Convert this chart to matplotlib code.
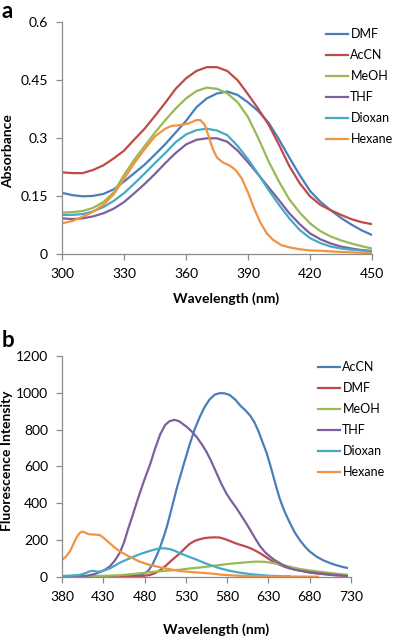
import matplotlib
matplotlib.use('Agg')
import matplotlib.pyplot as plt

plt.rcParams['font.family'] = ['Lato', 'DejaVu Sans']

# ---- panel a: absorbance (5 nm steps) ----
abs_wl = [300, 305, 310, 315, 320, 325, 330, 335, 340, 345, 350, 355, 360, 365, 370, 375,
          380, 385, 390, 395, 400, 405, 410, 415, 420, 425, 430, 435, 440, 445, 450]
abs_dmf = [0.159, 0.153, 0.150, 0.151, 0.156, 0.168, 0.188, 0.210, 0.232, 0.258, 0.285, 0.315,
           0.345, 0.380, 0.403, 0.416, 0.421, 0.412, 0.393, 0.370, 0.340, 0.297, 0.250, 0.205,
           0.164, 0.136, 0.114, 0.094, 0.077, 0.062, 0.050]
abs_accn = [0.212, 0.210, 0.210, 0.218, 0.230, 0.248, 0.268, 0.297, 0.325, 0.358, 0.392, 0.428,
            0.455, 0.474, 0.484, 0.484, 0.474, 0.450, 0.414, 0.376, 0.335, 0.283, 0.228, 0.184,
            0.150, 0.128, 0.114, 0.102, 0.091, 0.083, 0.078]
abs_meoh = [0.108, 0.109, 0.112, 0.120, 0.135, 0.160, 0.205, 0.245, 0.280, 0.315, 0.347, 0.377,
            0.403, 0.422, 0.431, 0.428, 0.416, 0.393, 0.355, 0.300, 0.240, 0.188, 0.142, 0.108,
            0.080, 0.060, 0.046, 0.036, 0.028, 0.021, 0.015]
abs_thf = [0.093, 0.091, 0.093, 0.098, 0.106, 0.118, 0.135, 0.158, 0.182, 0.208, 0.236, 0.262,
           0.284, 0.296, 0.300, 0.300, 0.291, 0.268, 0.238, 0.206, 0.173, 0.140, 0.106, 0.078,
           0.054, 0.039, 0.028, 0.020, 0.015, 0.011, 0.008]
abs_dioxan = [0.102, 0.102, 0.104, 0.111, 0.122, 0.138, 0.158, 0.183, 0.209, 0.236, 0.262, 0.290,
              0.310, 0.321, 0.325, 0.320, 0.308, 0.280, 0.246, 0.207, 0.166, 0.128, 0.093, 0.063,
              0.042, 0.029, 0.020, 0.015, 0.012, 0.010, 0.009]
hex_wl = [300, 305, 310, 315, 320, 325, 330, 335, 340, 345, 350, 353, 357, 361, 365, 367, 369,
          371, 373, 375, 378, 381, 384, 387, 390, 393, 396, 399, 402, 406, 410, 415, 420, 426,
          435, 450]
abs_hexane = [0.080, 0.086, 0.097, 0.110, 0.128, 0.155, 0.195, 0.236, 0.272, 0.305, 0.325, 0.332,
              0.334, 0.338, 0.347, 0.347, 0.335, 0.305, 0.272, 0.250, 0.237, 0.230, 0.218, 0.196,
              0.160, 0.118, 0.082, 0.055, 0.038, 0.024, 0.018, 0.013, 0.010, 0.009, 0.006, 0.003]

# ---- panel b: fluorescence ----
fl_accn_wl = [380, 440, 460, 470, 475, 480, 485, 490, 495, 499, 503, 507, 511, 515, 519, 523, 529,
              535, 541, 547, 553, 559, 565, 571, 577, 583, 590, 596, 602, 608, 613, 618, 623, 628,
              632, 636, 640, 644, 650, 656, 662, 668, 674, 680, 688, 696, 704, 712, 720, 725]
fl_accn = [0, 1, 3, 6, 10, 18, 35, 70, 118, 163, 215, 272, 340, 410, 480, 543, 635,
           725, 805, 870, 925, 965, 990, 998, 997, 988, 962, 930, 905, 875, 840, 790, 730, 671,
           610, 545, 480, 420, 350, 292, 240, 199, 165, 137, 110, 90, 75, 63, 53, 48]
fl_dmf_wl = [380, 450, 470, 480, 487, 493, 499, 505, 511, 517, 523, 529, 535, 541, 547, 553, 559,
             565, 571, 577, 583, 590, 596, 602, 608, 614, 620, 626, 632, 638, 644, 650, 656, 662,
             668, 674, 680, 690, 700, 712, 725]
fl_dmf = [0, 1, 3, 5, 10, 20, 36, 57, 82, 105, 128, 155, 180, 195, 204, 210, 213,
          214, 213, 205, 195, 182, 173, 165, 155, 142, 127, 110, 92, 76, 64, 53, 45, 39,
          34, 28, 22, 17, 12, 7, 4]
fl_meoh_wl = [380, 420, 450, 474, 490, 505, 523, 535, 547, 560, 572, 583, 595, 605, 615, 625, 635,
              644, 656, 668, 680, 692, 705, 715, 725]
fl_meoh = [0, 3, 8, 18, 26, 32, 38, 45, 50, 57, 64, 70, 75, 79, 82, 81, 75,
           67, 54, 42, 34, 27, 20, 15, 11]
fl_thf_wl = [380, 410, 420, 426, 432, 438, 444, 450, 455, 460, 466, 472, 480, 487, 493, 499, 505,
             510, 516, 522, 531, 537, 543, 549, 555, 561, 567, 573, 579, 585, 591, 596, 602, 608,
             614, 620, 626, 632, 638, 644, 650, 656, 662, 668, 680, 692, 705, 715, 725]
fl_thf = [2, 5, 15, 25, 38, 56, 88, 130, 185, 258, 340, 425, 530, 615, 700, 775, 825,
          845, 853, 845, 815, 790, 760, 722, 679, 625, 565, 505, 453, 412, 375, 340, 298, 254,
          208, 165, 133, 109, 89, 73, 58, 46, 38, 33, 25, 18, 12, 8, 4]
fl_dioxan_wl = [380, 390, 400, 405, 410, 414, 418, 422, 426, 432, 438, 444, 450, 462, 474, 486,
                495, 503, 511, 517, 523, 529, 535, 541, 547, 553, 559, 571, 583, 595, 608, 620,
                632, 645, 656]
fl_dioxan = [4, 6, 9, 14, 22, 30, 32, 28, 28, 35, 45, 60, 76, 100, 122, 140,
             151, 155, 150, 140, 127, 117, 106, 96, 85, 74, 64, 46, 32, 22, 14, 9,
             5, 3, 2]
fl_hex_wl = [380, 385, 390, 394, 398, 402, 405, 408, 411, 414, 420, 426, 432, 438, 444, 450, 462,
             474, 486, 499, 511, 523, 540, 559, 575, 595, 615, 650, 690]
fl_hexane = [91, 110, 140, 180, 217, 240, 245, 240, 233, 230, 229, 226, 205, 181, 158, 138, 108,
             82, 64, 51, 40, 31, 24, 18, 10, 5, 2, 1, 0]

c_blue = '#4A7EBB'
c_red = '#BE4B48'
c_green = '#98B954'
c_purple = '#7D5FA0'
c_cyan = '#46AAC5'
c_orange = '#F39240'

W, H = 394, 638
fig = plt.figure(figsize=(W / 100, H / 100), dpi=100)


def style_axes(ax):
    for s in ['top', 'right']:
        ax.spines[s].set_visible(False)
    for s in ['left', 'bottom']:
        ax.spines[s].set_color('#8c8c8c')
        ax.spines[s].set_linewidth(0.9)
    ax.tick_params(direction='out', length=4, width=0.9, color='#8c8c8c',
                   labelsize=10, pad=6)


lw = 1.6

# panel a
ax1 = fig.add_axes([62 / W, 1 - 254.3 / H, 310 / W, 232 / H])
ax1.plot(abs_wl, abs_dmf, color=c_blue, lw=lw, label='DMF')
ax1.plot(abs_wl, abs_accn, color=c_red, lw=lw, label='AcCN')
ax1.plot(abs_wl, abs_meoh, color=c_green, lw=lw, label='MeOH')
ax1.plot(abs_wl, abs_thf, color=c_purple, lw=lw, label='THF')
ax1.plot(abs_wl, abs_dioxan, color=c_cyan, lw=lw, label='Dioxan')
ax1.plot(hex_wl, abs_hexane, color=c_orange, lw=lw, label='Hexane')
ax1.set_xlim(300, 450)
ax1.set_ylim(0, 0.6)
ax1.set_xticks([300, 330, 360, 390, 420, 450])
ax1.set_yticks([0, 0.15, 0.3, 0.45, 0.6])
ax1.set_yticklabels(['0', '0.15', '0.3', '0.45', '0.6'])
style_axes(ax1)
ax1.legend(loc='upper left', bbox_to_anchor=(326 / W, 1 - 28 / H),
           bbox_transform=fig.transFigure, frameon=False, fontsize=9,
           handlelength=1.75, handletextpad=0.2, labelspacing=0.72,
           borderpad=0, borderaxespad=0)

# panel b
ax2 = fig.add_axes([62 / W, 1 - 576.7 / H, 289 / W, 220.7 / H])
ax2.plot(fl_accn_wl, fl_accn, color=c_blue, lw=lw, label='AcCN')
ax2.plot(fl_dmf_wl, fl_dmf, color=c_red, lw=lw, label='DMF')
ax2.plot(fl_meoh_wl, fl_meoh, color=c_green, lw=lw, label='MeOH')
ax2.plot(fl_thf_wl, fl_thf, color=c_purple, lw=lw, label='THF')
ax2.plot(fl_dioxan_wl, fl_dioxan, color=c_cyan, lw=lw, label='Dioxan')
ax2.plot(fl_hex_wl, fl_hexane, color=c_orange, lw=lw, label='Hexane')
ax2.set_xlim(380, 730)
ax2.set_ylim(0, 1200)
ax2.set_xticks(range(380, 731, 50))
ax2.set_yticks(range(0, 1201, 200))
style_axes(ax2)
ax2.legend(loc='upper left', bbox_to_anchor=(318 / W, 1 - 361 / H),
           bbox_transform=fig.transFigure, frameon=False, fontsize=9,
           handlelength=1.75, handletextpad=0.2, labelspacing=0.72,
           borderpad=0, borderaxespad=0)

# labels
fig.text(226 / W, 1 - 299 / H, 'Wavelength (nm)', ha='center', va='center',
         fontsize=10, fontweight='bold')
fig.text(216 / W, 1 - 630 / H, 'Wavelength (nm)', ha='center', va='center',
         fontsize=10, fontweight='bold')
fig.text(8 / W, 1 - 151 / H, 'Absorbance', ha='center', va='center',
         rotation=90, fontsize=10, fontweight='bold')
fig.text(7 / W, 1 - 461 / H, 'Fluorescence Intensity', ha='center', va='center',
         rotation=90, fontsize=10, fontweight='bold')
fig.text(2 / W, 1 - 1 / H, 'a', ha='left', va='top', fontsize=16, fontweight='bold')
fig.text(2 / W, 1 - 330 / H, 'b', ha='left', va='top', fontsize=16, fontweight='bold')

fig.savefig('out.png', dpi=100)
